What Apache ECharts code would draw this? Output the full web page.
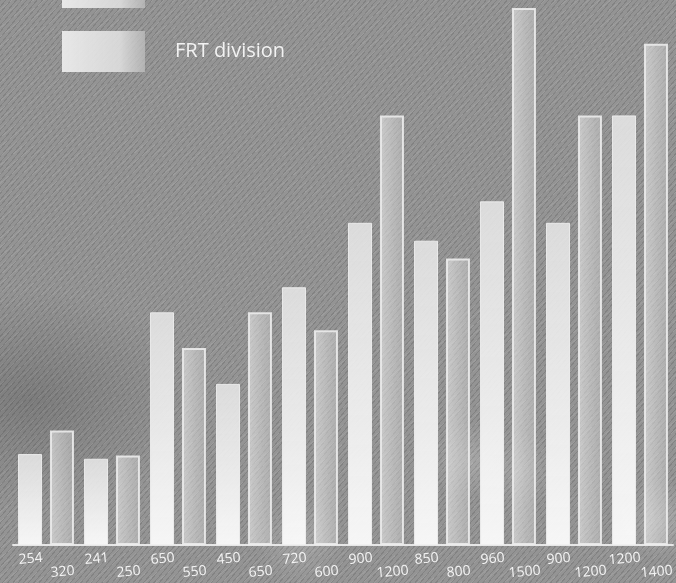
<!DOCTYPE html>
<html>
<head>
<meta charset="utf-8">
<script src="https://cdn.jsdelivr.net/npm/echarts@6/dist/echarts.min.js"></script>
<style>
  html, body { margin: 0; padding: 0; }
  #chart {
    width: 676px; height: 583px;
    background-color: #949494;
    background-image:
      radial-gradient(ellipse 160px 110px at 30px 400px, rgba(40,40,40,0.22), rgba(40,40,40,0) 100%),
      radial-gradient(circle 40px at 470px 460px, rgba(255,255,255,0.18), rgba(255,255,255,0) 100%),
      radial-gradient(circle 40px at 520px 470px, rgba(255,255,255,0.14), rgba(255,255,255,0) 100%),
      radial-gradient(circle 45px at 300px 540px, rgba(255,255,255,0.16), rgba(255,255,255,0) 100%),
      radial-gradient(circle 40px at 660px 520px, rgba(255,255,255,0.2), rgba(255,255,255,0) 100%),
      repeating-linear-gradient(130deg, rgba(60,60,60,0.2) 0px, rgba(60,60,60,0.2) 1px, rgba(0,0,0,0) 1px, rgba(0,0,0,0) 4px),
      repeating-linear-gradient(140deg, rgba(210,210,210,0.14) 0px, rgba(210,210,210,0.14) 1px, rgba(0,0,0,0) 1px, rgba(0,0,0,0) 7px);
  }
</style>
</head>
<body>
<div id="chart"></div>
<script>
// Ten groups, two bars each
const categories = ['1', '2', '3', '4', '5', '6', '7', '8', '9', '10'];
const seriesNames = ['Division', 'FRT division'];
const firstValues = [254, 241, 650, 450, 720, 900, 850, 960, 900, 1200];
const frtValues = [320, 250, 550, 650, 600, 1200, 800, 1500, 1200, 1400];

const chart = echarts.init(document.getElementById('chart'), null, { renderer: 'canvas' });

const labelFont = { fontFamily: 'Open Sans', fontSize: 14, color: '#f4f4f4' };

// Legend swatch: bright on the left, fading to grey on the right
const swatch = new echarts.graphic.LinearGradient(0, 0, 1, 0, [
  { offset: 0, color: 'rgba(236,236,236,0.95)' },
  { offset: 0.7, color: 'rgba(222,222,222,0.9)' },
  { offset: 1, color: 'rgba(190,190,190,0.75)' }
]);

chart.setOption({
  backgroundColor: 'transparent',
  animation: false,
  legend: {
    orient: 'vertical',
    left: 62,
    top: -33,
    padding: 0,
    itemWidth: 83,
    itemHeight: 41,
    itemGap: 23,
    icon: 'rect',
    data: seriesNames.map(function (n) { return { name: n, itemStyle: { color: swatch, borderWidth: 0 } }; }),
    textStyle: { fontFamily: 'Open Sans', fontSize: 20, color: '#f2f2f2', padding: [0, 0, 0, 25] }
  },
  grid: { left: 13, right: 3, top: 8, bottom: 38 },
  xAxis: {
    type: 'category',
    data: categories,
    axisLine: { lineStyle: { color: '#e6e6e6', width: 2 } },
    axisTick: { inside: true, length: 12, lineStyle: { color: '#e6e6e6', width: 2 } },
    axisLabel: { show: false }
  },
  yAxis: {
    type: 'value',
    min: 0,
    max: 1500,
    show: false,
    splitLine: { show: false }
  },
  series: [
    {
      name: seriesNames[0],
      type: 'bar',
      data: firstValues,
      barWidth: 24,
      barGap: '33%',
      itemStyle: {
        color: new echarts.graphic.LinearGradient(0, 0, 0, 1, [
          { offset: 0, color: 'rgba(230,230,230,0.88)' },
          { offset: 1, color: 'rgba(250,250,250,0.96)' }
        ]),
        borderColor: 'rgba(240,240,240,0.9)',
        borderWidth: 1
      },
      label: { show: true, position: 'bottom', distance: 7, rotate: 5, ...labelFont }
    },
    {
      name: seriesNames[1],
      type: 'bar',
      data: frtValues,
      barWidth: 24,
      itemStyle: {
        color: new echarts.graphic.LinearGradient(0, 0, 1, 0, [
          { offset: 0, color: 'rgba(240,240,240,0.6)' },
          { offset: 1, color: 'rgba(205,205,205,0.45)' }
        ]),
        borderColor: 'rgba(236,236,236,0.9)',
        borderWidth: 2
      },
      label: { show: true, position: 'bottom', distance: 20, rotate: 5, ...labelFont }
    }
  ]
});
</script>
</body>
</html>
